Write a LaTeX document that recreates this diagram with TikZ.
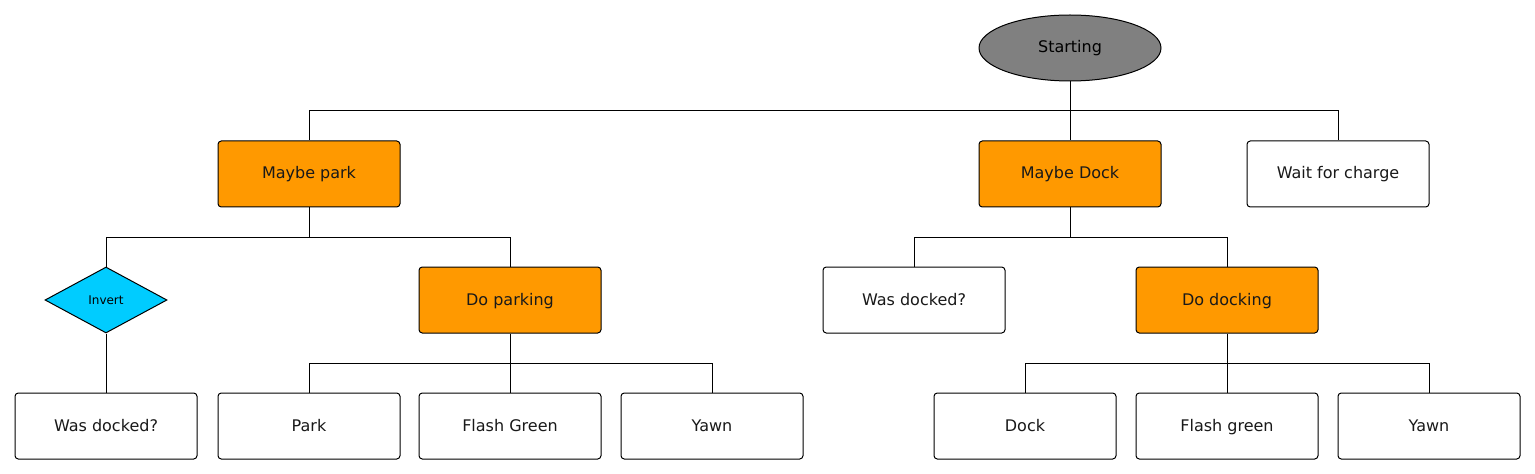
\documentclass[tikz,border=0pt]{standalone}
\usepackage{fontspec}
\setmainfont{DejaVu Sans}
\usetikzlibrary{shapes.geometric}
\definecolor{orangeB}{HTML}{FF9900}
\definecolor{cyanB}{HTML}{00CCFF}
\definecolor{grayB}{HTML}{808080}
\tikzset{
  box/.style={draw, line width=0.75pt, rounded corners=2.5pt, minimum width=136.5pt, minimum height=49.5pt, inner sep=0pt, font=\fontsize{12}{14}\selectfont, text=black!90, text height=0.9em, text depth=0.15em},
  actbox/.style={box, fill=orangeB},
  plainbox/.style={box, fill=white},
  invbox/.style={draw, diamond, aspect=1.85, line width=0.75pt, fill=cyanB, minimum width=91.5pt, minimum height=49.5pt, inner sep=0pt, font=\fontsize{9}{11}\selectfont},
  startbox/.style={draw, ellipse, line width=0.75pt, fill=grayB, minimum width=136.5pt, minimum height=49.5pt, inner sep=0pt, font=\fontsize{12}{14}\selectfont, text height=0.9em, text depth=0.15em},
  conn/.style={draw, line width=0.75pt}
}
\begin{document}
\begin{tikzpicture}[x=0.75pt, y=-0.75pt]
\useasboundingbox (0,0) rectangle (1535,474);
\node[startbox] (start) at (1070,48) {Starting};
\node[actbox] (mpark) at (309,174) {Maybe park};
\node[actbox] (mdock) at (1070,174) {Maybe Dock};
\node[plainbox] (wait) at (1338,174) {Wait for charge};
\node[invbox] (inv) at (106,300) {Invert};
\node[actbox] (dpark) at (510,300) {Do parking};
\node[plainbox] (wdock2) at (914,300) {Was docked?};
\node[actbox] (ddock) at (1227,300) {Do docking};
\node[plainbox] (wdock1) at (106,426) {Was docked?};
\node[plainbox] (park) at (309,426) {Park};
\node[plainbox] (fgreen1) at (510,426) {Flash Green};
\node[plainbox] (yawn1) at (712,426) {Yawn};
\node[plainbox] (dock) at (1025,426) {Dock};
\node[plainbox] (fgreen2) at (1227,426) {Flash green};
\node[plainbox] (yawn2) at (1429,426) {Yawn};
% Starting bus
\draw[conn] (start.south) -- (start.south |- 0,111) -| (mpark.north);
\draw[conn] (start.south) -- (mdock.north);
\draw[conn] (start.south |- 0,111) -| (wait.north);
% Maybe park bus
\draw[conn] (mpark.south) -- (mpark.south |- 0,237) -| (inv.north);
\draw[conn] (mpark.south |- 0,237) -| (dpark.north);
% Invert
\draw[conn] (inv.south) -- (wdock1.north);
% Do parking bus
\draw[conn] (dpark.south) -- (fgreen1.north);
\draw[conn] (dpark.south |- 0,363) -| (park.north);
\draw[conn] (dpark.south |- 0,363) -| (yawn1.north);
% Maybe Dock bus
\draw[conn] (mdock.south) -- (mdock.south |- 0,237) -| (wdock2.north);
\draw[conn] (mdock.south |- 0,237) -| (ddock.north);
% Do docking bus
\draw[conn] (ddock.south) -- (fgreen2.north);
\draw[conn] (ddock.south |- 0,363) -| (dock.north);
\draw[conn] (ddock.south |- 0,363) -| (yawn2.north);
\end{tikzpicture}
\end{document}
